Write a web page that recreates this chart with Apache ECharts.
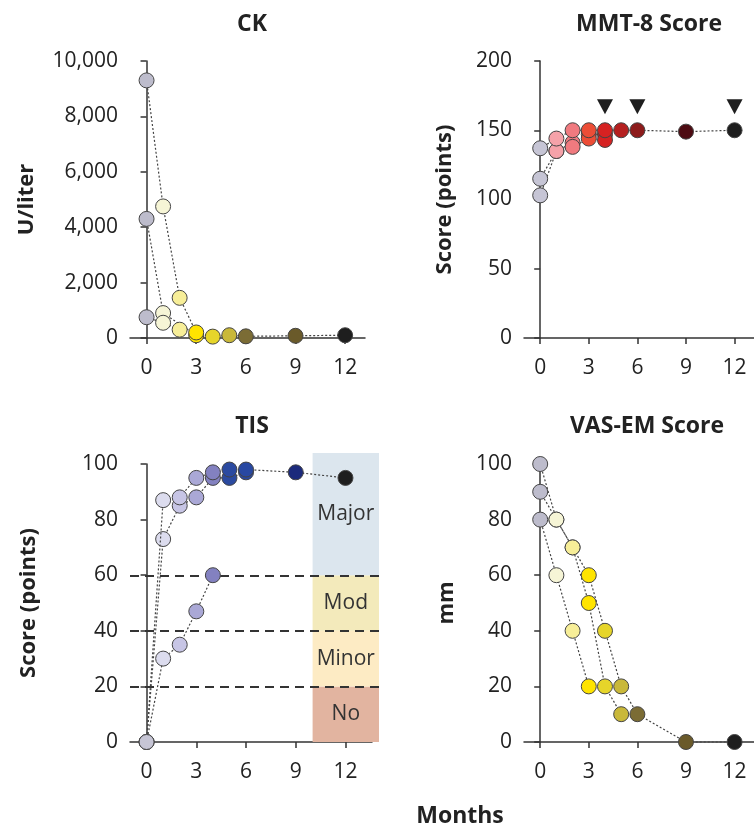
<!DOCTYPE html>
<html><head><meta charset="utf-8">
<script src="https://cdn.jsdelivr.net/npm/echarts@6/dist/echarts.min.js"></script>
<style>html,body{margin:0;padding:0;background:#fff}#c{width:754px;height:828px}</style>
</head><body><div id="c"></div>
<script>
// ---------- DATA ----------
const monthTicks = [0, 3, 6, 9, 12];

// CK (U/liter), three patients
const ckP1Months = [0, 1, 2, 3, 4, 5, 6, 9, 12];
const ckP1Values = [9300, 4750, 1450, 200, 50, 100, 60, 80, 100];
const ckP2Months = [0, 1, 3];
const ckP2Values = [4300, 900, 100];
const ckP3Months = [0, 1, 2];
const ckP3Values = [750, 550, 300];

// MMT-8 score (points)
const mmtP1Months = [0, 1, 2, 3, 4, 5, 6, 9, 12];
const mmtP1Values = [137, 144, 150, 150, 150, 150, 150, 149, 150];
const mmtP2Months = [0, 1, 2, 3, 4];
const mmtP2Values = [115, 135, 141, 147, 147];
const mmtP3Months = [0, 1, 2, 3, 4];
const mmtP3Values = [103, 135, 138, 144, 143];
const mmtMarkerMonths = [4, 6, 12];
const mmtMarkerLevel = 167;

// TIS (points)
const tisP1Months = [0, 1, 2, 3, 4, 5, 6, 9, 12];
const tisP1Values = [0, 87, 88, 95, 97, 98, 98, 97, 95];
const tisP2Months = [0, 1, 2, 3, 4, 5, 6];
const tisP2Values = [0, 73, 85, 88, 95, 95, 97];
const tisP3Months = [0, 1, 2, 3, 4];
const tisP3Values = [0, 30, 35, 47, 60];
const tisBandNames = ['No', 'Minor', 'Mod', 'Major'];
const tisBandFrom = [0, 20, 40, 60];
const tisBandTo = [20, 40, 60, 104];
const tisBandStartMonth = 10;
const tisThresholds = [20, 40, 60];

// VAS-EM (mm)
const vasP1Months = [0, 1, 2, 3, 4, 5, 6, 9, 12];
const vasP1Values = [100, 80, 70, 60, 40, 20, 10, 0, 0];
const vasP2Months = [0, 1, 2, 3, 4, 5];
const vasP2Values = [90, 80, 70, 50, 20, 10];
const vasP3Months = [0, 1, 2, 3];
const vasP3Values = [80, 60, 40, 20];

// ---------- STYLE ----------
const FONT = '"Open Sans", "Noto Sans", sans-serif';
const yellowColors = {0:'#bdbccc',1:'#f6f5d6',2:'#f7ee98',3:'#ffe400',4:'#e6d52a',5:'#c9b83a',6:'#7b6c35',9:'#6a5a2a',12:'#1e1e1e'};
const redColors = {0:'#c6c5d5',1:'#f5a2a9',2:'#f07a7f',3:'#ec4d36',4:'#d62222',5:'#b52020',6:'#8d1b1b',9:'#4d0b12',12:'#1e1e1e'};
const blueColors = {0:'#c6c5d5',1:'#dcdcee',2:'#c7c5e5',3:'#aaa8d6',4:'#8381c0',5:'#2b4aa0',6:'#2848a2',9:'#1c2a7c',12:'#1e1e1e'};
const bandColors = {No:'#e2b4a0', Minor:'#fdebc4', Mod:'#f3eabb', Major:'#dce6ee'};

function pts(months, values, colors) {
  return months.map((m, i) => ({value: [m, values[i]], itemStyle: {color: colors[m]}}));
}
function patient(months, values, colors, gi, z) {
  return {
    type: 'line', xAxisIndex: gi, yAxisIndex: gi,
    data: pts(months, values, colors),
    symbol: 'circle', symbolSize: 15, z: z || 5,
    lineStyle: {color: '#444', width: 1.2, type: [2, 2]},
    itemStyle: {borderColor: '#444', borderWidth: 1, opacity: 1},
    emphasis: {disabled: true}, animation: false, clip: false
  };
}

const axisCommon = {
  axisLine: {show: true, lineStyle: {color: '#333', width: 1.5}},
  axisTick: {show: true, length: 6, lineStyle: {color: '#333', width: 1.5}},
  splitLine: {show: false},
  axisLabel: {color: '#222', fontSize: 21, fontFamily: FONT}
};
function xAx(gi, max) {
  return Object.assign({}, axisCommon, {
    type: 'value', gridIndex: gi, min: -1, max: max,
    axisTick: Object.assign({}, axisCommon.axisTick, {customValues: monthTicks}),
    axisLabel: Object.assign({}, axisCommon.axisLabel, {customValues: monthTicks, margin: 20})
  });
}
function yAx(gi, max, interval, name, gap) {
  return Object.assign({}, axisCommon, {
    type: 'value', gridIndex: gi, min: 0, max: max, interval: interval,
    name: name, nameLocation: 'middle', nameGap: gap,
    nameTextStyle: {fontSize: 22, fontWeight: 'bold', color: '#222', fontFamily: FONT},
    axisLabel: Object.assign({}, axisCommon.axisLabel, {margin: 12,
      formatter: v => v.toLocaleString('en-US')})
  });
}

const titleStyle = {fontSize: 23, fontWeight: 'bold', color: '#222', fontFamily: FONT};

const option = {
  animation: false,
  textStyle: {fontFamily: FONT},
  title: [
    {text: 'CK', left: 247, top: 8, textAlign: 'center', textStyle: titleStyle},
    {text: 'MMT-8 Score', left: 644, top: 8, textAlign: 'center', textStyle: titleStyle},
    {text: 'TIS', left: 247, top: 410, textAlign: 'center', textStyle: titleStyle},
    {text: 'VAS-EM Score', left: 642, top: 410, textAlign: 'center', textStyle: titleStyle},
    {text: 'Months', left: 455, top: 800, textAlign: 'center', textStyle: titleStyle}
  ],
  grid: [
    {left: 130, top: 61, width: 235, height: 277},
    {left: 524, top: 61, width: 235, height: 277},
    {left: 130, top: 464, width: 242, height: 278},
    {left: 524, top: 464, width: 235, height: 278},
    {left: 130, top: 453, width: 249, height: 289}
  ],
  xAxis: [
    xAx(0, 13.2), xAx(1, 13.2), xAx(2, 13.6), xAx(3, 13.2),
    {type: 'value', gridIndex: 4, min: -1, max: 14, show: false}
  ],
  yAxis: [
    yAx(0, 10000, 2000, 'U/liter', 92),
    yAx(1, 200, 50, 'Score (points)', 68),
    yAx(2, 100, 20, 'Score (points)', 90),
    yAx(3, 100, 20, 'mm', 66),
    {type: 'value', gridIndex: 4, min: 0, max: 104, show: false}
  ],
  series: [
    {
      type: 'scatter', xAxisIndex: 4, yAxisIndex: 4, data: [], z: 1, silent: true,
      markArea: {
        silent: true,
        data: tisBandNames.map((n, i) => [
          {name: n, xAxis: tisBandStartMonth, yAxis: tisBandFrom[i], itemStyle: {color: bandColors[n], opacity: 1}},
          {xAxis: 14, yAxis: tisBandTo[i]}
        ]),
        label: {show: true, position: 'inside', color: '#333', fontSize: 21, fontFamily: FONT}
      },
      markLine: {
        silent: true, symbol: 'none', animation: false,
        label: {show: false},
        lineStyle: {color: '#333', width: 1.8, type: [9, 6]},
        data: tisThresholds.map(t => ({yAxis: t}))
      }
    },
    patient(ckP1Months, ckP1Values, yellowColors, 0, 6),
    patient(ckP2Months, ckP2Values, yellowColors, 0, 5),
    patient(ckP3Months, ckP3Values, yellowColors, 0, 5),
    patient(mmtP1Months, mmtP1Values, redColors, 1, 6),
    patient(mmtP2Months, mmtP2Values, redColors, 1, 5),
    patient(mmtP3Months, mmtP3Values, redColors, 1, 5),
    {
      type: 'scatter', xAxisIndex: 1, yAxisIndex: 1, z: 6, animation: false,
      symbol: 'triangle', symbolRotate: 180, symbolSize: [16, 15],
      itemStyle: {color: '#1e1e1e', opacity: 1},
      data: mmtMarkerMonths.map(m => [m, mmtMarkerLevel])
    },
    patient(tisP1Months, tisP1Values, blueColors, 2, 6),
    patient(tisP2Months, tisP2Values, blueColors, 2, 5),
    patient(tisP3Months, tisP3Values, blueColors, 2, 5),
    patient(vasP1Months, vasP1Values, yellowColors, 3, 6),
    patient(vasP2Months, vasP2Values, yellowColors, 3, 5),
    patient(vasP3Months, vasP3Values, yellowColors, 3, 5)
  ]
};
echarts.init(document.getElementById('c'), null, {renderer: 'canvas'}).setOption(option);
</script>
</body></html>
